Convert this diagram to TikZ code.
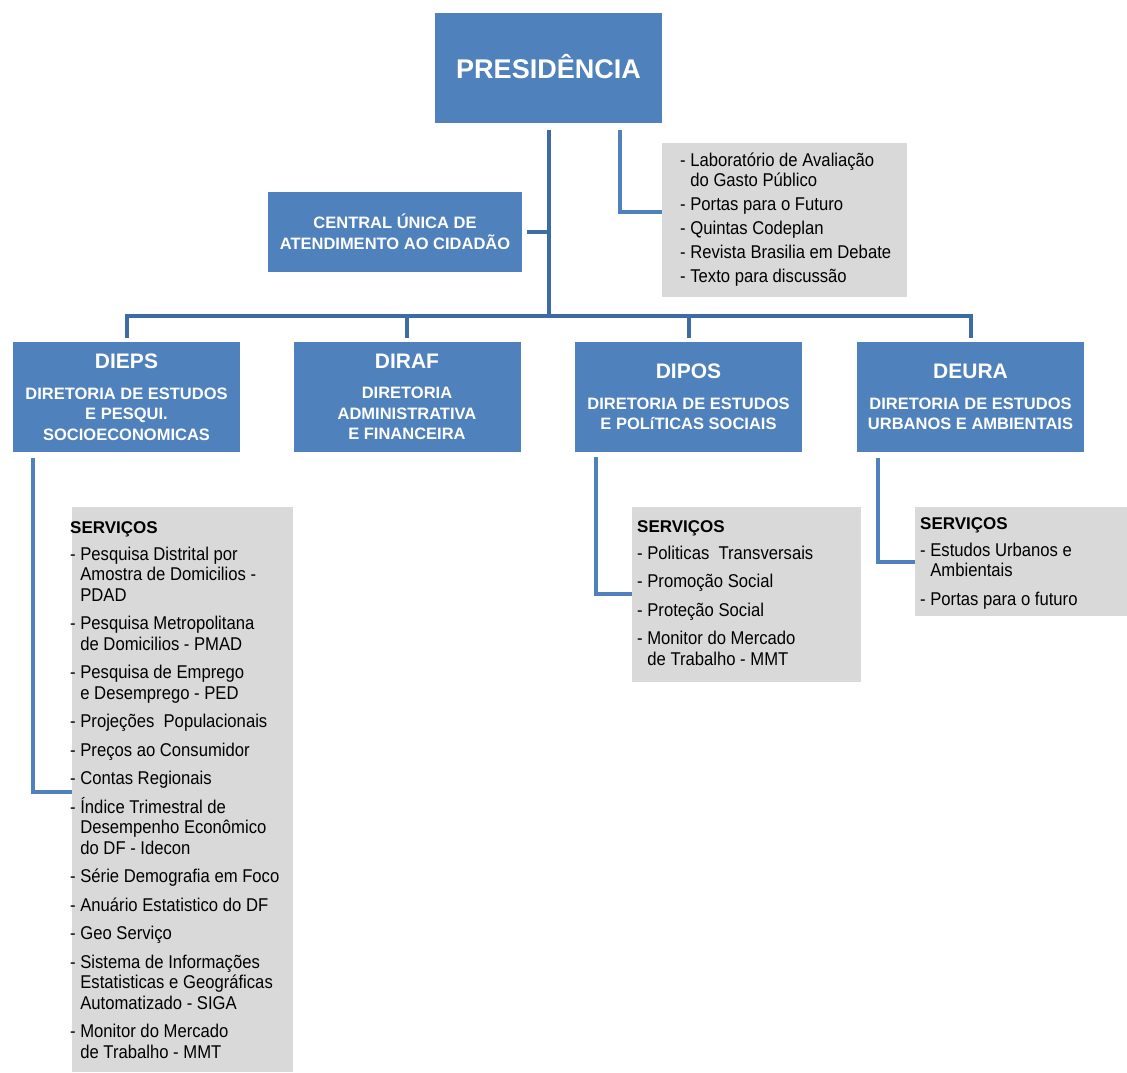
\documentclass[tikz,border=0pt]{standalone}
\usepackage{fontspec}
\setmainfont{Liberation Sans}
\newfontfamily\narrowfont[FakeStretch=0.9]{Liberation Sans}
\usepackage{xcolor}
\usepackage{tikz}

\definecolor{boxblue}{HTML}{4F81BD}
\definecolor{treeblue}{HTML}{3D6BA6}
\definecolor{listgray}{HTML}{D9D9D9}

\begin{document}
\begin{tikzpicture}[x=1pt,y=-1pt,
    dirbox/.style={fill=boxblue, text=white, align=center, inner sep=0pt,
      minimum width=227pt, minimum height=110pt,
      font=\bfseries\fontsize{16.5}{20.5}\selectfont},
    listbox/.style={fill=listgray, inner sep=0pt, anchor=north west},
    listtext/.style={anchor=north west, inner sep=0pt, align=left,
      font=\narrowfont\fontsize{18.5}{20.5}\selectfont},
    tree/.style={draw=treeblue, line width=4pt},
    side/.style={draw=boxblue, line width=4pt}]
  \useasboundingbox (0,0) rectangle (1127,1072);

  % presidencia and its units
  \node[dirbox, font=\bfseries\fontsize{27}{30}\selectfont] (pres) at (548.5,68) {\raisebox{4pt}{PRESIDÊNCIA}};
  \node[dirbox, minimum width=254pt, minimum height=80pt] (central) at (395,232)
    {CENTRAL ÚNICA DE\\ATENDIMENTO AO CIDADÃO};
  \node[listbox, minimum width=245pt, minimum height=154pt] (lab) at (662,143) {};
  \node[listtext, font=\narrowfont\fontsize{18.5}{20}\selectfont] (labtxt) at (680,153)
    {- Laboratório de Avaliação\\\phantom{- }do Gasto Público\\[4pt]
     - Portas para o Futuro\\[4pt]- Quintas Codeplan\\[4pt]
     - Revista Brasilia em Debate\\[4pt]- Texto para discussão};

  % diretorias
  \node[dirbox] (dieps) at (126.5,397)
    {{\fontsize{21}{21}\selectfont DIEPS}\\[10pt]DIRETORIA DE ESTUDOS\\E PESQUI.\\SOCIOECONOMICAS};
  \node[dirbox] (diraf) at (407,397)
    {{\fontsize{21}{21}\selectfont DIRAF}\\[10pt]DIRETORIA\\ADMINISTRATIVA\\E FINANCEIRA};
  \node[dirbox] (dipos) at (688.5,397)
    {{\fontsize{21}{21}\selectfont DIPOS}\\[10pt]DIRETORIA DE ESTUDOS\\E POLíTICAS SOCIAIS};
  \node[dirbox] (deura) at (970.5,397)
    {{\fontsize{21}{21}\selectfont DEURA}\\[10pt]DIRETORIA DE ESTUDOS\\URBANOS E AMBIENTAIS};

  % servicos
  \node[listbox, minimum width=221pt, minimum height=565pt] (srvdieps) at (72,507) {};
  \node[listtext] (txtdieps) at (70,521)
    {{\normalfont\bfseries\fontsize{17}{20.5}\selectfont SERVIÇOS}\\[6.5pt]
     - Pesquisa Distrital por\\\phantom{- }Amostra de Domicilios -\\\phantom{- }PDAD\\[8pt]
     - Pesquisa Metropolitana\\\phantom{- }de Domicilios - PMAD\\[8pt]
     - Pesquisa de Emprego\\\phantom{- }e Desemprego - PED\\[8pt]
     - Projeções~ Populacionais\\[8pt]
     - Preços ao Consumidor\\[8pt]
     - Contas Regionais\\[8pt]
     - Índice Trimestral de\\\phantom{- }Desempenho Econômico\\\phantom{- }do DF - Idecon\\[8pt]
     - Série Demografia em Foco\\[8pt]
     - Anuário Estatistico do DF\\[8pt]
     - Geo Serviço\\[8pt]
     - Sistema de Informações\\\phantom{- }Estatisticas e Geográficas\\\phantom{- }Automatizado - SIGA\\[8pt]
     - Monitor do Mercado\\\phantom{- }de Trabalho - MMT};

  \node[listbox, minimum width=229pt, minimum height=175pt] (srvdipos) at (632,507) {};
  \node[listtext] (txtdipos) at (637,520)
    {{\normalfont\bfseries\fontsize{17}{20.5}\selectfont SERVIÇOS}\\[6.5pt]
     - Politicas~ Transversais\\[8pt]
     - Promoção Social\\[8pt]
     - Proteção Social\\[8pt]
     - Monitor do Mercado\\\phantom{- }de Trabalho - MMT};

  \node[listbox, minimum width=212pt, minimum height=109pt] (srvdeura) at (915,507) {};
  \node[listtext] (txtdeura) at (920,517)
    {{\normalfont\bfseries\fontsize{17}{20.5}\selectfont SERVIÇOS}\\[6.5pt]
     - Estudos Urbanos e\\\phantom{- }Ambientais\\[8pt]
     - Portas para o futuro};

  % connectors
  \coordinate (hub) at (548.5,316);
  \draw[tree] ([yshift=-7pt]pres.south) -- (hub);
  \draw[tree] ([yshift=4pt]dieps.north) -- (dieps.north |- hub) -- (deura.north |- hub)
    -- ([yshift=4pt]deura.north);
  \draw[tree] (diraf.north |- hub) -- ([yshift=4pt]diraf.north);
  \draw[tree] (dipos.north |- hub) -- ([yshift=4pt]dipos.north);
  \draw[tree] ([xshift=5pt]central.east) -- (central.east -| hub);
  \draw[side] ([xshift=71.5pt,yshift=-7pt]pres.south) |- ([shift={(0,69)}]lab.north west);
  \draw[side] ([shift={(20,6)}]dieps.south west) |- ([shift={(0,285)}]srvdieps.north west);
  \draw[side] ([shift={(21,5)}]dipos.south west) |- ([shift={(0,87)}]srvdipos.north west);
  \draw[side] ([shift={(21,6)}]deura.south west) |- ([shift={(0,55)}]srvdeura.north west);
\end{tikzpicture}
\end{document}
